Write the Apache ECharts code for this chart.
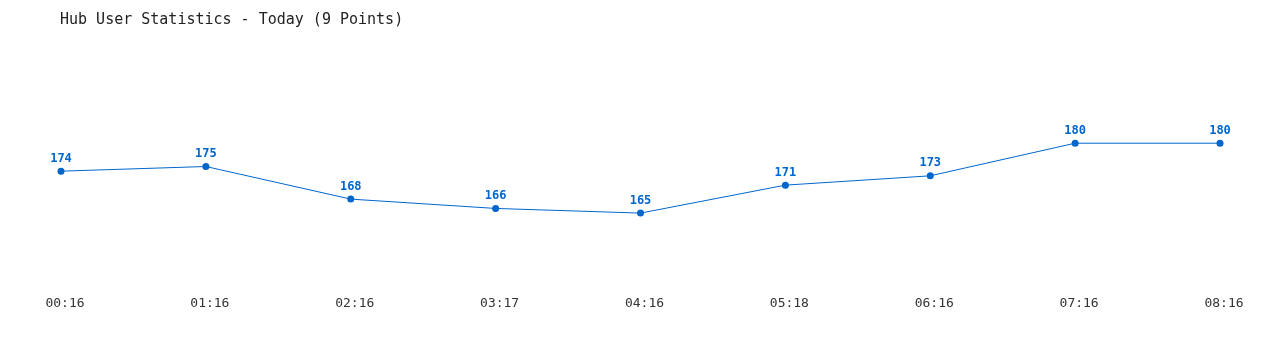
<!DOCTYPE html>
<html><head><meta charset="utf-8">
<script src="https://cdn.jsdelivr.net/npm/echarts@6/dist/echarts.min.js"></script>
<style>html,body{margin:0;padding:0;background:#fff}#c{width:1280px;height:350px}</style>
</head><body><div id="c"></div>
<script>
const categories = ["00:16","01:16","02:16","03:17","04:16","05:18","06:16","07:16","08:16"];
const users = [174,175,168,166,165,171,173,180,180];
const titleText = "Hub User Statistics - Today (9 Points)";
const font = "'DejaVu Sans Mono', 'Liberation Mono', monospace";
const chart = echarts.init(document.getElementById('c'));
chart.setOption({
  animation:false,
  title:{text:titleText,left:55,top:8,textStyle:{fontFamily:font,fontSize:15,fontWeight:'normal',color:'#222'}},
  grid:{left:61,right:60,top:50,bottom:67},
  xAxis:{type:'category',data:categories,boundaryGap:false,
    axisLine:{show:false},axisTick:{show:false},
    axisLabel:{fontFamily:font,fontSize:13,color:'#333',margin:14,padding:[0,0,0,8]}},
  yAxis:{type:'value',min:150,max:200,show:false,splitLine:{show:false}},
  series:[{type:'line',data:users,symbol:'circle',symbolSize:7,
    lineStyle:{color:'#0066cc',width:1},itemStyle:{color:'#0066cc'},
    label:{show:true,position:'top',distance:3,fontFamily:font,fontSize:12,fontWeight:'bold',color:'#0066cc'}}]
});
</script></body></html>
